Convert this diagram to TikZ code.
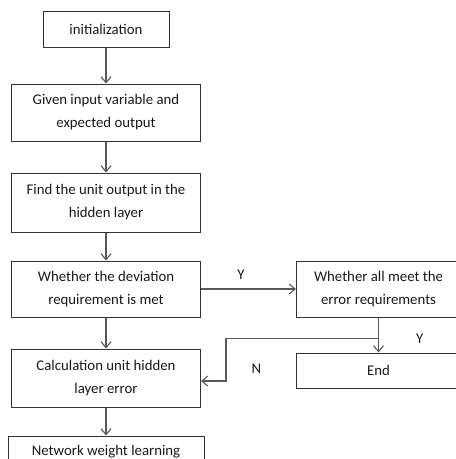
\documentclass[tikz,border=0pt]{standalone}
\usepackage{fontspec}
\setmainfont{Carlito}
\usepackage{xcolor}
\usetikzlibrary{arrows.meta, positioning}

\begin{document}
\begin{tikzpicture}[
    node distance=31pt,
    box/.style={rectangle, draw=black!80, line width=1pt, text=black!90, align=center,
        font=\fontsize{14.8}{23}\selectfont, minimum width=189pt, minimum height=57pt, inner sep=0pt},
    smallbox/.style={box, minimum width=126pt, minimum height=36pt},
    sidebox/.style={box, minimum width=164pt},
    arrow/.style={line width=1.1pt, draw=black!65, -{Straight Barb[length=6pt, width=10pt]}},
    lbl/.style={font=\fontsize{14.8}{16}\selectfont, text=black!90}
]
    \useasboundingbox (0,0) rectangle (456pt,-459pt);

    \node[smallbox] (init) at (106pt,-29pt) {initialization};
    \node[box, below=36pt of init] (given) {Given input variable and\\expected output};
    \node[box, below=of given, minimum height=59pt] (find) {Find the unit output in the\\hidden layer};
    \node[box, below=28pt of find, minimum height=56pt] (whether) {Whether the deviation\\requirement is met};
    \node[box, below=of whether, minimum height=58pt] (calc) {Calculation unit hidden\\layer error};
    \node[box, below=28pt of calc, minimum width=196pt, minimum height=31pt] (network) {Network weight learning};

    \node[sidebox, right=95pt of whether, minimum height=56pt] (allmeet) {Whether all meet the\\error requirements};
    \node[sidebox, below=35pt of allmeet, minimum height=35pt] (finish) {End};

    \coordinate[below=21pt of allmeet.south] (split);
    \coordinate[right=25pt of calc.east, yshift=-3pt] (turn);

    % Arrows
    \draw[arrow] (init) -- (given);
    \draw[arrow] (given) -- (find);
    \draw[arrow] (find) -- (whether);
    \draw[arrow] (whether) -- (calc);
    \draw[arrow] (calc) -- (network);
    \draw[arrow] (whether) -- node[lbl, above=6pt, pos=0.42] (yes1) {Y} (allmeet);
    \draw[arrow] (allmeet) -- (finish);
    \draw[arrow] (split) -| (turn) -- (turn -| calc.east);
    \node[lbl, right=34pt of split] (yes2) {Y};
    \node[lbl, above right=4pt and 22pt of turn] (no) {N};
\end{tikzpicture}
\end{document}
